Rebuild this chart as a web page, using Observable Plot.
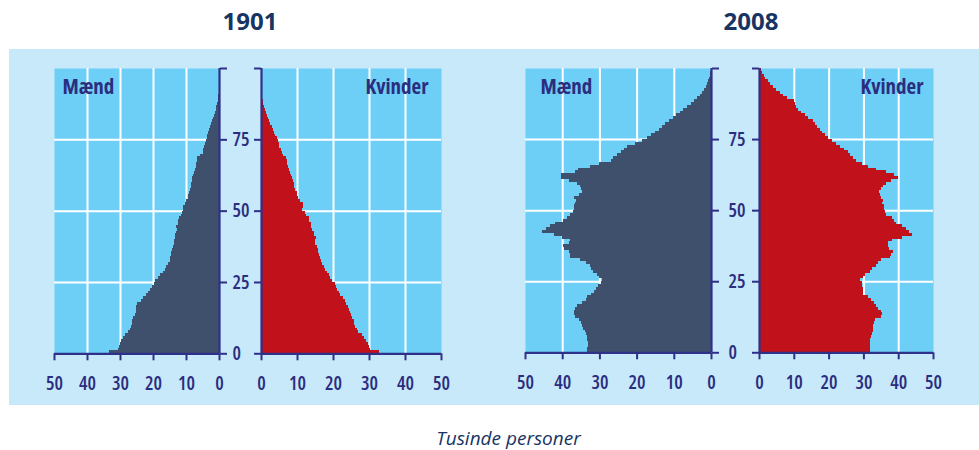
<!DOCTYPE html>
<html><head><meta charset="utf-8">
<script src="https://cdn.jsdelivr.net/npm/d3@7"></script>
<script src="https://cdn.jsdelivr.net/npm/@observablehq/plot@0.6"></script>
<style>
body{margin:0;background:#fff;}
#wrap{position:relative;width:979px;height:450px;overflow:hidden;}
#panel{position:absolute;left:9px;top:49px;width:970px;height:356px;background:#c7e9f9;}
.title{position:absolute;top:9px;width:200px;text-align:center;font:bold 24px/24px "Open Sans",sans-serif;color:#173463;}
#caption{position:absolute;left:0;width:1017px;top:429px;text-align:center;font:italic 19px/19px "Open Sans",sans-serif;color:#173463;}
#wrap svg{position:absolute;left:0;top:0;}
#wrap svg text{font-stretch:75%;}
</style></head>
<body><div id="wrap"><div id="panel"></div>
<div class="title" style="left:150px">1901</div>
<div class="title" style="left:651px">2008</div>
<div id="caption">Tusinde personer</div>
</div>
<script>
// Single-year age categories 0..99 (bar index = age)
const ages = d3.range(0, 100);
const xTicks = [0, 10, 20, 30, 40, 50];
const yTicks = [0, 25, 50, 75, 100];
const sexLabels = ["Mænd", "Kvinder"];

// thousands of persons, by age 0..99
const men1901 = [33.3,30.5,30.3,30.0,29.6,29.0,28.6,27.6,27.0,26.8,
26.5,26.3,26.0,25.4,25.3,25.2,25.2,24.8,23.6,23.0,
22.2,21.4,21.0,20.4,19.8,19.4,18.6,17.8,17.0,16.5,
16.0,15.6,15.0,14.8,14.5,14.6,14.2,14.0,13.6,13.7,
13.3,13.4,13.0,12.8,12.9,12.5,12.3,12.0,11.6,11.2,
11.0,10.9,10.2,9.9,9.5,9.3,9.0,8.8,8.6,8.4,
8.3,8.1,7.9,7.7,7.3,7.1,6.9,6.7,6.6,5.8,
5.0,4.9,4.5,4.2,4.0,3.7,3.5,3.2,3.0,2.7,
2.4,2.0,1.8,1.5,1.3,1.0,0.8,0.6,0.4,0.3,
0.2,0.1,0.1,0,0,0,0,0,0,0];
const women1901 = [32.7,30.3,30.0,29.6,29.2,28.5,28.0,27.0,26.6,26.2,
25.9,25.7,25.4,25.0,24.8,24.5,24.2,23.6,23.2,22.8,
22.0,21.6,21.2,20.9,20.5,19.6,19.2,18.8,18.2,17.8,
17.4,17.0,16.6,16.3,16.0,15.9,15.7,15.5,15.1,15.0,
15.4,14.8,14.6,14.3,13.9,13.8,13.4,13.2,12.6,12.2,
11.3,11.6,11.6,10.8,10.4,10.1,9.9,9.5,9.3,9.1,
9.0,8.6,8.3,8.0,7.8,7.5,7.3,7.1,6.9,6.1,
5.8,5.5,5.1,4.9,4.7,4.4,3.8,3.5,3.3,3.0,
2.6,2.2,2.0,1.7,1.4,1.1,0.8,0.6,0.5,0.4,
0.3,0.2,0.1,0,0,0,0,0,0,0];
const men2008 = [33.2,33.2,33.0,33.1,33.3,33.4,33.7,33.9,34.3,34.6,
35.0,35.6,36.6,36.8,36.7,36.5,36.0,34.8,33.6,33.3,
32.2,31.5,30.8,30.4,29.7,29.4,30.0,30.6,31.8,32.2,
32.5,33.6,35.3,37.8,38.0,38.2,39.5,39.7,38.2,37.8,
40.0,42.2,45.4,44.4,43.4,42.0,39.8,38.7,37.8,37.2,
36.9,36.8,36.6,36.4,36.9,35.6,34.8,35.0,35.2,36.0,
38.2,40.2,40.4,36.5,35.8,32.4,30.2,27.0,26.4,25.4,
24.3,23.5,22.5,20.5,18.5,17.2,16.2,15.0,14.0,13.2,
12.4,11.3,10.3,9.3,8.3,7.6,6.5,5.5,4.6,3.8,
3.0,2.3,1.8,1.4,1.0,0.7,0.5,0.3,0.2,0.1];
const women2008 = [31.9,31.9,31.9,31.9,32.0,32.2,32.4,32.7,32.8,32.9,
33.1,33.3,35.0,35.3,35.0,34.2,33.6,33.0,32.2,31.4,
30.0,29.9,29.8,29.6,29.5,29.0,29.8,30.5,31.8,32.5,
33.6,34.2,35.2,37.6,38.0,38.4,37.4,37.2,37.0,38.3,
41.0,44.1,43.0,42.2,41.2,39.3,38.8,38.2,36.6,36.3,
36.0,35.8,35.4,35.7,35.1,34.8,34.6,35.2,35.6,36.6,
38.0,39.8,38.9,36.6,33.6,31.2,29.6,28.0,27.0,26.2,
25.5,24.5,23.2,22.0,21.0,19.8,19.0,18.0,17.4,16.6,
16.0,15.4,14.2,13.2,12.2,11.3,10.6,10.3,10.2,8.0,
7.0,6.0,5.0,4.1,3.2,2.5,1.8,1.3,0.9,0.6];

const FONT = '"Open Sans",sans-serif';
const MID = "#6dcff6", MEN = "#3f506d", WOMEN = "#c1121c", AX = "#2e3089", NAVY = "#2b2d7f";

function half(values, o) {
  const data = values.map((v, i) => ({age: ages[i], value: v}));
  const left = o.side === "left";
  return Plot.plot({
    width: 979, height: 450,
    marginLeft: o.x0, marginRight: 979 - o.x1, marginTop: o.top, marginBottom: 450 - o.bottom,
    style: {background: "transparent", fontFamily: FONT, fontSize: "18px", color: NAVY, overflow: "visible"},
    x: {domain: [0, 50], reverse: left, label: null},
    y: {domain: [0, 100], label: null},
    marks: [
      Plot.frame({fill: MID, stroke: null}),
      Plot.gridX([10, 20, 30, 40], {stroke: "#fff", strokeOpacity: 1, strokeWidth: 2}),
      Plot.gridY([25, 50, 75], {stroke: "#fff", strokeOpacity: 1, strokeWidth: 2}),
      Plot.rectX(data, {x1: 0, x2: "value", y1: "age", y2: d => d.age + 1, fill: o.color, shapeRendering: "crispEdges"}),
      Plot.ruleY([0], {stroke: AX, strokeWidth: 2.2}),
      Plot.ruleX([0], {stroke: AX, strokeWidth: 2.2}),
      Plot.axisX({ticks: xTicks, tickSize: 7, tickPadding: 16, stroke: AX, strokeWidth: 2, strokeOpacity: 1, fill: NAVY, fontSize: 19, fontWeight: 600, label: null, tickFormat: d => String(d)}),
      Plot.axisY({anchor: left ? "right" : "left", ticks: yTicks, tickSize: 7, tickPadding: o.pad, label: null,
        tickFormat: left ? (d => d === 100 ? "" : String(d)) : (() => ""),
        stroke: AX, strokeWidth: 2, strokeOpacity: 1, fill: NAVY, fontSize: 19, fontWeight: 600, textAnchor: "start"}),
      Plot.text([o.label], {text: d => d, frameAnchor: left ? "top-left" : "top-right", dx: o.dx, dy: 11,
        lineAnchor: "top", textAnchor: left ? "start" : "end", fontWeight: "bold", fontSize: 21, fill: NAVY})
    ]
  });
}

const wrap = document.getElementById("wrap");
wrap.append(
  half(men1901,   {side: "left",  x0: 54,  x1: 219, top: 68, bottom: 353.3, pad: 6,  color: MEN,   label: sexLabels[0], dx: 8}),
  half(women1901, {side: "right", x0: 261, x1: 441, top: 68, bottom: 353.3, pad: 6,  color: WOMEN, label: sexLabels[1], dx: -13}),
  half(men2008,   {side: "left",  x0: 525, x1: 711, top: 68, bottom: 352.3, pad: 10, color: MEN,   label: sexLabels[0], dx: 15}),
  half(women2008, {side: "right", x0: 759, x1: 933, top: 68, bottom: 352.3, pad: 10, color: WOMEN, label: sexLabels[1], dx: -10})
);
</script>
</body></html>
